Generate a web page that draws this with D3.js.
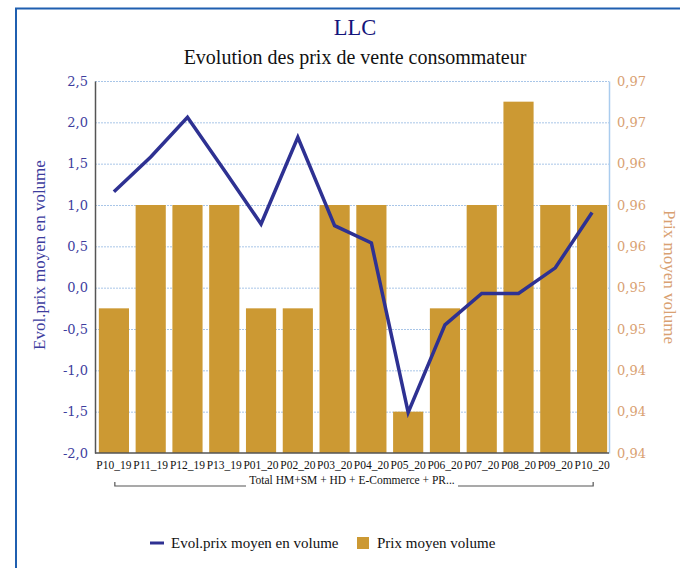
<!DOCTYPE html>
<html>
<head>
<meta charset="utf-8">
<script src="https://cdn.jsdelivr.net/npm/d3@7"></script>
<style>
  body { margin: 0; background: #fff; }
  svg { display: block; }
</style>
</head>
<body>
<svg id="chart" width="680" height="568"></svg>
<script>
// periods on the x axis
var periods = ["P10_19", "P11_19", "P12_19", "P13_19", "P01_20", "P02_20", "P03_20",
  "P04_20", "P05_20", "P06_20", "P07_20", "P08_20", "P09_20", "P10_20"]
// bars, right axis
var prixMoyen = [0.950, 0.960, 0.960, 0.960, 0.950, 0.950, 0.960,
  0.960, 0.940, 0.950, 0.960, 0.970, 0.960, 0.960]
// line, left axis
var evolPrix = [1.16, 1.58, 2.06, 1.42, 0.77, 1.82, 0.75,
  0.54, -1.51, -0.45, -0.07, -0.07, 0.24, 0.91]
var leftTicks = [-2.0, -1.5, -1.0, -0.5, 0.0, 0.5, 1.0, 1.5, 2.0, 2.5]
var rightTicks = [0.936, 0.940, 0.944, 0.948, 0.952, 0.956, 0.960, 0.964, 0.968, 0.972]

var svg = d3.select("#chart")
var serif = "'DejaVu Serif', serif"
var serifNarrow = "'Liberation Serif', serif"

var lineColor = "#2e3192"
var barColor = "#cc9933"
var leftColor = "#3d3d9e"
var rightColor = "#d9a172"

// frame
svg.append("line").attr("x1", 15).attr("x2", 680).attr("y1", 8.5).attr("y2", 8.5)
  .attr("stroke", "#1f5fb0").attr("stroke-width", 2)
svg.append("line").attr("x1", 16).attr("x2", 16).attr("y1", 8).attr("y2", 568)
  .attr("stroke", "#1f5fb0").attr("stroke-width", 2)

// titles
svg.append("text").attr("x", 355).attr("y", 35).attr("text-anchor", "middle")
  .attr("font-family", serifNarrow).attr("font-size", 22.5).attr("fill", "#14147a").text("LLC")
svg.append("text").attr("x", 355).attr("y", 64).attr("text-anchor", "middle")
  .attr("font-family", serifNarrow).attr("font-size", 20).attr("fill", "#111").text("Evolution des prix de vente consommateur")

var plot = { left: 95, right: 609, top: 81, bottom: 453 }

var x = d3.scaleBand().domain(periods).range([plot.left + 2, plot.right]).paddingInner(0.18).paddingOuter(0.05)
var yL = d3.scaleLinear().domain([-2.0, 2.5]).range([plot.bottom, plot.top])
var yR = d3.scaleLinear().domain([0.936, 0.972]).range([plot.bottom, plot.top])

// grid
svg.append("g").selectAll("line").data(leftTicks.slice(1)).enter().append("line")
  .attr("x1", plot.left).attr("x2", plot.right)
  .attr("y1", function (d) { return yL(d) + 0.5 })
  .attr("y2", function (d) { return yL(d) + 0.5 })
  .attr("stroke", "#a9c6e8").attr("stroke-dasharray", "2,1")

// bars
svg.append("g").selectAll("rect").data(prixMoyen).enter().append("rect")
  .attr("x", function (d, i) { return x(periods[i]) })
  .attr("y", function (d) { return yR(d) })
  .attr("width", x.bandwidth())
  .attr("height", function (d) { return yR(0.936) - yR(d) })
  .attr("fill", barColor)

// line
var line = d3.line()
  .x(function (d, i) { return x(periods[i]) + x.bandwidth() / 2 })
  .y(function (d) { return yL(d) })
svg.append("path").datum(evolPrix).attr("d", line)
  .attr("fill", "none").attr("stroke", lineColor).attr("stroke-width", 3.5)

// left axis
var axL = d3.axisLeft(yL).tickValues(leftTicks).tickSize(0).tickPadding(7)
  .tickFormat(function (d) { return d3.format(".1f")(d).replace(".", ",").replace("−", "-") })
var gL = svg.append("g").attr("transform", "translate(" + plot.left + ",0)").call(axL)
gL.select(".domain").attr("stroke", "#555").attr("stroke-width", 1.5)
gL.selectAll("text").attr("font-family", serif).attr("font-size", 13).attr("fill", leftColor)

// right axis
var axR = d3.axisRight(yR).tickValues(rightTicks).tickSize(0).tickPadding(8)
  .tickFormat(function (d) { return d3.format(".2f")(d).replace(".", ",") })
var gR = svg.append("g").attr("transform", "translate(" + plot.right + ",0)").call(axR)
gR.select(".domain").attr("stroke", "#aaccee").attr("stroke-width", 1.5)
gR.selectAll("text").attr("font-family", serif).attr("font-size", 13).attr("fill", rightColor)

// bottom axis
var axB = d3.axisBottom(x).tickSize(0).tickPadding(8)
var gB = svg.append("g").attr("transform", "translate(0," + plot.bottom + ")").call(axB)
gB.select(".domain").attr("d", "M" + plot.left + ",0H" + plot.right).attr("stroke", "#555").attr("stroke-width", 1.5)
gB.selectAll("text").attr("font-family", serifNarrow).attr("font-size", 11.5).attr("fill", "#111")

// group bracket
var bx0 = x(periods[0]) + 16, bx1 = x(periods[periods.length - 1]) + x.bandwidth() - 14
svg.append("path")
  .attr("d", "M" + bx0 + ",482V486H246M458,486H" + bx1 + "V482")
  .attr("fill", "none").attr("stroke", "#555").attr("stroke-width", 1.2)
svg.append("text").attr("x", 352).attr("y", 484).attr("text-anchor", "middle")
  .attr("font-family", serifNarrow).attr("font-size", 11.5).attr("fill", "#111")
  .text("Total HM+SM + HD + E-Commerce + PR...")

// axis titles
svg.append("text").attr("transform", "translate(45,255) rotate(-90)").attr("text-anchor", "middle")
  .attr("font-family", serifNarrow).attr("font-size", 17).attr("fill", leftColor)
  .text("Evol.prix moyen en volume")
svg.append("text").attr("transform", "translate(664,277) rotate(90)").attr("text-anchor", "middle")
  .attr("font-family", serifNarrow).attr("font-size", 17).attr("fill", rightColor)
  .text("Prix moyen volume")

// legend
var lg = svg.append("g").attr("font-family", serifNarrow).attr("font-size", 15).attr("fill", "#111")
lg.append("line").attr("x1", 150).attr("x2", 164).attr("y1", 543).attr("y2", 543)
  .attr("stroke", lineColor).attr("stroke-width", 3)
lg.append("text").attr("x", 171).attr("y", 548).text("Evol.prix moyen en volume")
lg.append("rect").attr("x", 357).attr("y", 537).attr("width", 12).attr("height", 12).attr("fill", barColor)
lg.append("text").attr("x", 377).attr("y", 548).text("Prix moyen volume")
</script>
</body>
</html>
